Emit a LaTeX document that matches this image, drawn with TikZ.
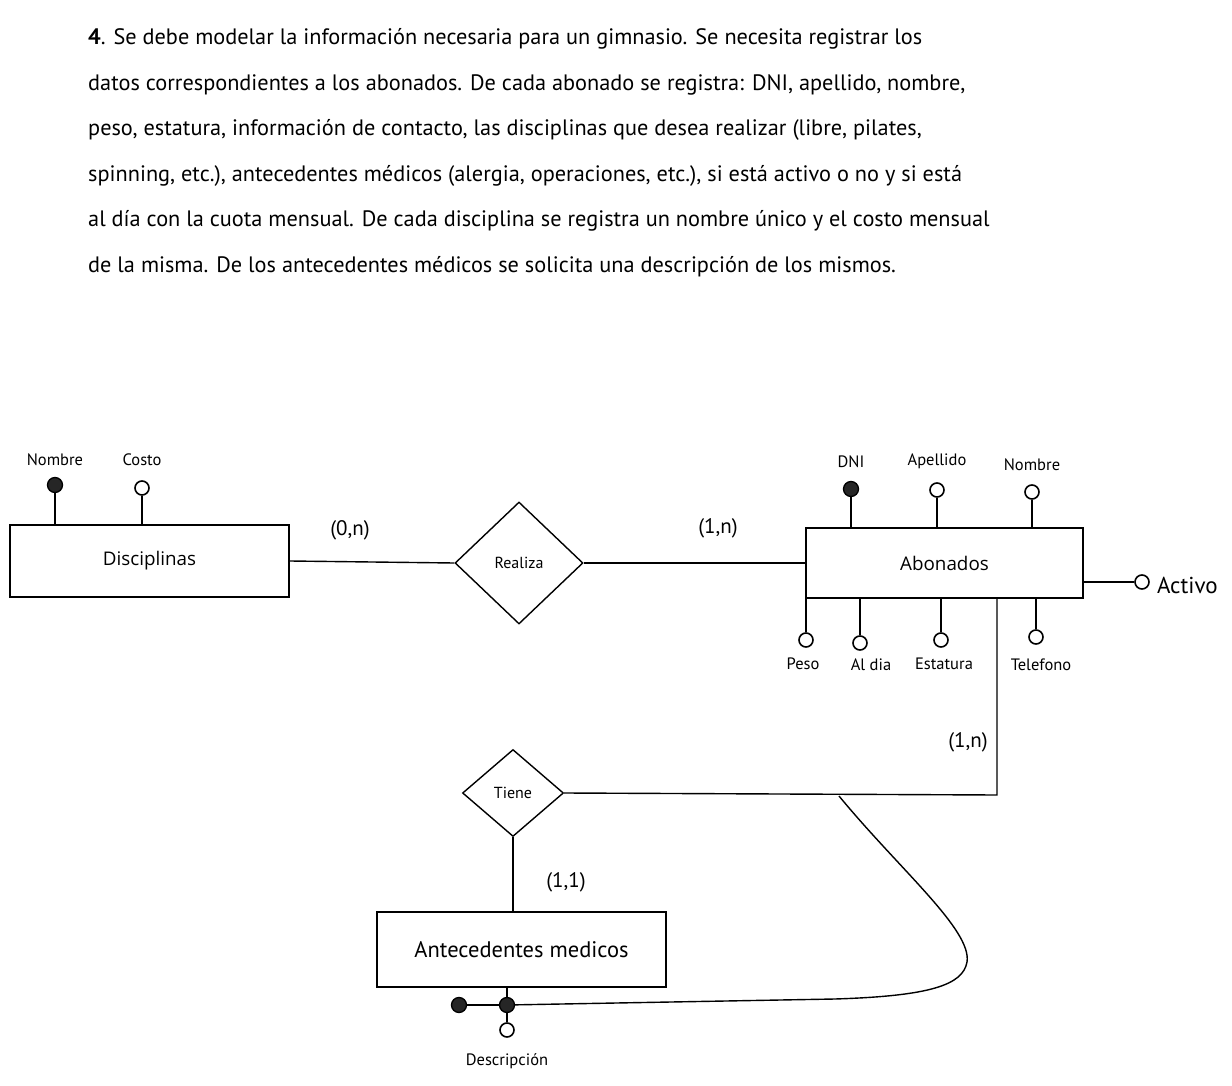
\documentclass[tikz,border=0pt]{standalone}
\usepackage{fontspec}
\usepackage{tikz}
\usetikzlibrary{positioning,shapes.geometric}
\setmainfont{PT Sans}
\newfontfamily\boxfont{Open Sans}

\begin{document}
\begin{tikzpicture}[x=1pt, y=-1pt,
    entity/.style={rectangle, draw=black, line width=1.9pt, font=\boxfont\fontsize{18.8}{21}\selectfont},
    entityhand/.style={rectangle, draw=black, line width=1.9pt, font=\fontsize{22.5}{25}\selectfont},
    relation/.style={diamond, draw=black, line width=1.4pt, inner sep=0pt, font=\fontsize{16}{18}\selectfont},
    keyattr/.style={circle, fill=black!85, draw=black, line width=1.3pt, inner sep=0pt, minimum size=15pt},
    plainattr/.style={circle, draw=black, line width=1.6pt, fill=white, inner sep=0pt, minimum size=14pt},
    attrlabel/.style={inner sep=1pt, font=\fontsize{16.5}{18}\selectfont},
    cardlabel/.style={inner sep=0pt, font=\fontsize{21}{24}\selectfont},
    textline/.style={anchor=base west, inner sep=0pt, font=\fontsize{22.3}{26}\selectfont},
    link/.style={line width=1.4pt}]
    \useasboundingbox (0,0) rectangle (1232,1086);

    %Statement
    \node[textline] (line1) at (88,45)   {\textbf{4}. Se debe modelar la información necesaria para un gimnasio. Se necesita registrar los};
    \node[textline] (line2) at (88,90.5) {datos correspondientes a los abonados. De cada abonado se registra: DNI, apellido, nombre,};
    \node[textline] (line3) at (88,136)  {peso, estatura, información de contacto, las disciplinas que desea realizar (libre, pilates,};
    \node[textline] (line4) at (88,181.5) {spinning, etc.), antecedentes médicos (alergia, operaciones, etc.), si está activo o no y si está};
    \node[textline] (line5) at (88,227)  {al día con la cuota mensual. De cada disciplina se registra un nombre único y el costo mensual};
    \node[textline] (line6) at (88,272.5) {de la misma. De los antecedentes médicos se solicita una descripción de los mismos.};

    %Nodes
    \node[entity, minimum width=279pt, minimum height=72pt]      (disc)    at (149.5,561) {Disciplinas};
    \node[relation, minimum width=128pt, minimum height=122pt]   (realiza) at (519,563)   {Realiza};
    \node[entity, minimum width=277pt, minimum height=70pt]      (abo)     at (944.5,563) {Abonados};
    \node[relation, minimum width=101pt, minimum height=87pt]    (tiene)   at (513,793)   {Tiene};
    \node[entityhand, minimum width=289pt, minimum height=75pt]  (ant)     at (521.5,949.5) {Antecedentes medicos};

    %Attributes
    \node[keyattr]   (discnom)  at (55,485)  {};
    \node[plainattr] (disccost) at (142,488) {};
    \node[attrlabel] [above=10pt of discnom]  {Nombre};
    \node[attrlabel] [above=13pt of disccost] {Costo};

    \node[keyattr]   (dni)    at (851,489)  {};
    \node[plainattr] (apell)  at (937,490)  {};
    \node[plainattr] (abonom) at (1032,492) {};
    \node[attrlabel] [above=12pt of dni]    {DNI};
    \node[attrlabel] [above=12pt of apell]  {Apellido};
    \node[attrlabel] [above=12pt of abonom] {Nombre};

    \node[plainattr] (peso)   at (806,640)  {};
    \node[plainattr] (aldia)  at (860,643)  {};
    \node[plainattr] (estat)  at (941,640)  {};
    \node[plainattr] (tel)    at (1036,637) {};
    \node[plainattr] (activo) at (1142,582) {};
    \node[attrlabel] [below=9pt of peso, xshift=-3pt]  {Peso};
    \node[attrlabel] [below=7pt of aldia, xshift=11pt] {Al dia};
    \node[attrlabel] [below=9pt of estat, xshift=3pt]  {Estatura};
    \node[attrlabel] [below=13pt of tel, xshift=5pt]   {Telefono};
    \node[attrlabel, font=\fontsize{23}{25}\selectfont] [right=6pt of activo, yshift=-3pt] {Activo};

    \node[keyattr]   (desckey) at (507,1005) {};
    \node[keyattr]   (relkey)  at (459,1005) {};
    \node[plainattr] (desc)    at (507,1030) {};
    \node[attrlabel] [below=15pt of desc] {Descripción};

    %Cardinalities
    \node[cardlabel] (card1) at (350,530) {(0,n)};
    \node[cardlabel] (card2) at (718,528) {(1,n)};
    \node[cardlabel] (card3) at (968,742) {(1,n)};
    \node[cardlabel] (card4) at (566,882) {(1,1)};

    %Lines
    \coordinate (corner) at (997,795);
    \coordinate (split)  at (839,796);
    \draw[link] (disc.east) -- (realiza.west);
    \draw[link] (realiza.east) -- (abo.west);
    \draw[link] (abo.south -| corner) -- (corner) -- (tiene.east);
    \draw[link] (tiene.south) -- (tiene.south |- ant.north);

    \draw[link] (discnom) -- (discnom |- disc.north);
    \draw[link] (disccost) -- (disccost |- disc.north);
    \draw[link] (dni) -- (dni |- abo.north);
    \draw[link] (apell) -- (apell |- abo.north);
    \draw[link] (abonom) -- (abonom |- abo.north);
    \draw[link] (peso) -- (peso |- abo.south);
    \draw[link] (aldia) -- (aldia |- abo.south);
    \draw[link] (estat) -- (estat |- abo.south);
    \draw[link] (tel) -- (tel |- abo.south);
    \draw[link] (activo) -- (activo -| abo.east);

    \draw[link] (desckey) -- (desckey |- ant.south);
    \draw[link] (relkey) -- (desckey);
    \draw[link] (desckey) -- (desc);
    \draw[link] (split) .. controls (900,870) and (972,930) .. (967,962)
        .. controls (963,985) and (930,996) .. (835,999) -- (desckey);
\end{tikzpicture}
\end{document}
